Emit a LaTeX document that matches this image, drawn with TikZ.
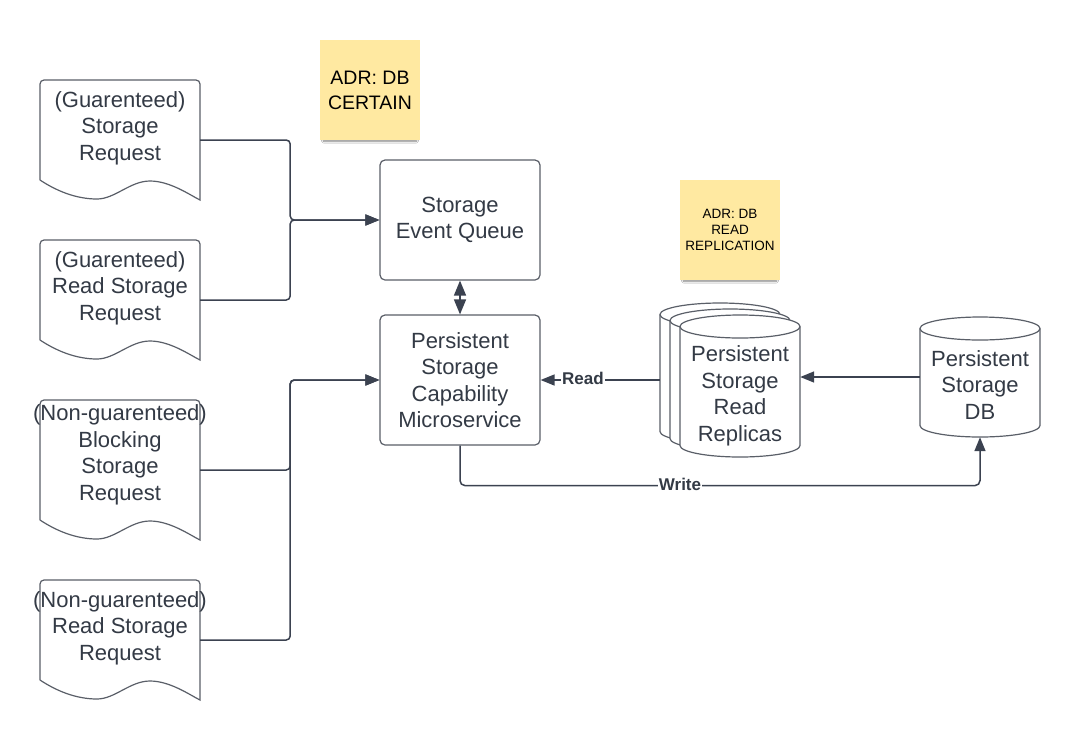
\documentclass[tikz,border=0pt]{standalone}
\usepackage{fontspec}
\setmainfont{Liberation Sans}
\usetikzlibrary{arrows.meta,shadows.blur,calc}
\definecolor{cink}{HTML}{333A45}
\definecolor{cbox}{HTML}{5A5F68}
\definecolor{cwire}{HTML}{3B4250}
\definecolor{csticky}{HTML}{FFE9A1}
\newcommand\cylshape[4]{%
  \draw[cbox, line width=1.2pt, fill=white] (#1,#3+11.5) -- (#1,#4-11.5)
    arc[start angle=180,end angle=360,x radius=60pt,y radius=11.5pt]
    -- (#2,#3+11.5)
    arc[start angle=0,end angle=180,x radius=60pt,y radius=11.5pt] -- cycle;
  \draw[cbox, line width=1.2pt] (#1,#3+11.5)
    arc[start angle=180,end angle=360,x radius=60pt,y radius=11.5pt];}
\tikzset{
  docpic/.pic={
    \draw[cbox, line width=1.2pt, fill=white] (-80,#1-20) [rounded corners=4pt] -- (-80,-#1) -- (80,-#1) [sharp corners] -- (80,#1)
      .. controls (70,#1-5) and (50,#1-19) .. (30,#1-19)
      .. controls (10,#1-19) and (-5,#1-1) .. (-23,#1-1)
      .. controls (-45,#1-1) and (-65,#1-10) .. (-80,#1-20);
  }
}
\begin{document}
\begin{tikzpicture}[x=1pt,y=-1pt,
  every node/.style={text=cink, align=center},
  maintext/.style={font=\fontsize{22}{26.5}\selectfont, inner sep=0pt},
  area/.style={draw=none, inner sep=0pt, minimum width=#1},
  boxnode/.style={draw=cbox, line width=1.2pt, rounded corners=5pt, fill=white,
     minimum width=160pt, inner sep=0pt, font=\fontsize{22}{26.5}\selectfont},
  stickynote/.style={fill=csticky, minimum width=100pt, minimum height=100pt, inner sep=0pt, text=black,
     blur shadow={shadow xshift=0pt, shadow yshift=-5pt, shadow opacity=50, shadow blur steps=6, shadow scale=0.93}},
  wire/.style={draw=cwire, line width=1.5pt, rounded corners=4pt},
  arr/.style={wire, -{Triangle[length=14pt,width=11pt]}},
  lbl/.style={fill=white, inner sep=1pt, text=cink, font=\bfseries\fontsize{17}{20}\selectfont}
]
\useasboundingbox (0,0) rectangle (1080,740);
\fill[white] (0,0) rectangle (1080,740);

% documents
\node[area=160pt, minimum height=120pt] (d1) at (120,140) {};
\node[area=160pt, minimum height=120pt] (d2) at (120,300) {};
\node[area=160pt, minimum height=140pt] (d3) at (120,470) {};
\node[area=160pt, minimum height=120pt] (d4) at (120,640) {};
\pic at (d1.center) {docpic=60};
\pic at (d2.center) {docpic=60};
\pic at (d3.center) {docpic=70};
\pic at (d4.center) {docpic=60};
\node[maintext] (d1t) at (120,128) {(Guarenteed)\\Storage\\Request};
\node[maintext] (d2t) at (120,288) {(Guarenteed)\\Read Storage\\Request};
\node[maintext] (d3t) at (120,455) {(Non-guarenteed)\\Blocking\\Storage\\Request};
\node[maintext] (d4t) at (120,628) {(Non-guarenteed)\\Read Storage\\Request};

% sticky notes
\node[stickynote, font=\fontsize{19.5}{25}\selectfont] (s1) at (370,90) {ADR: DB\\CERTAIN};
\node[stickynote, font=\fontsize{13.5}{16}\selectfont] (s2) at (730,230) {ADR: DB\\READ\\REPLICATION};

% boxes
\node[boxnode, minimum height=120pt] (queue) at (460,220) {Storage\\Event Queue};
\node[boxnode, minimum height=130pt] (micro) at (460,380) {\raisebox{2pt}{\parbox{160pt}{\centering Persistent\\Storage\\Capability\\Microservice}}};

% cylinders
\cylshape{660}{780}{303}{443}
\cylshape{670}{790}{309}{450}
\cylshape{680}{800}{315}{457}
\cylshape{920}{1040}{317}{437}
\node[area=120pt, minimum height=140pt] (repb) at (720,373) {};
\node[area=120pt, minimum height=142pt] (rep) at (740,386) {};
\node[area=120pt, minimum height=120pt] (db) at (980,377) {};
\node[maintext] (rept) at (740,396) {Persistent\\Storage\\Read\\Replicas};
\node[maintext] (dbt) at (980,385) {Persistent\\Storage\\DB};

% connectors
\draw[arr] (d1.east) -- ++(90,0) |- (queue.west);
\draw[arr] (d2.east) -- ++(90,0) |- (queue.west);
\draw[arr] (d3.east) -- ++(90,0) |- (micro.west);
\draw[arr] (d4.east) -- ++(90,0) |- (micro.west);
\draw[wire, {Triangle[length=15pt,width=12pt]}-{Triangle[length=15pt,width=12pt]}] (queue.south) -- (micro.north);
\draw[arr] (db.west) -- (db.west -| rep.east);
\draw[arr] (repb.west |- micro.east) -- (micro.east);
\draw[arr, rounded corners=5pt] (micro.south) -- ++(0,40) -| (db.south);
\node[lbl] (readlbl) at (583,378) {Read};
\node[lbl] (writelbl) at (680,484) {Write};
\end{tikzpicture}
\end{document}
